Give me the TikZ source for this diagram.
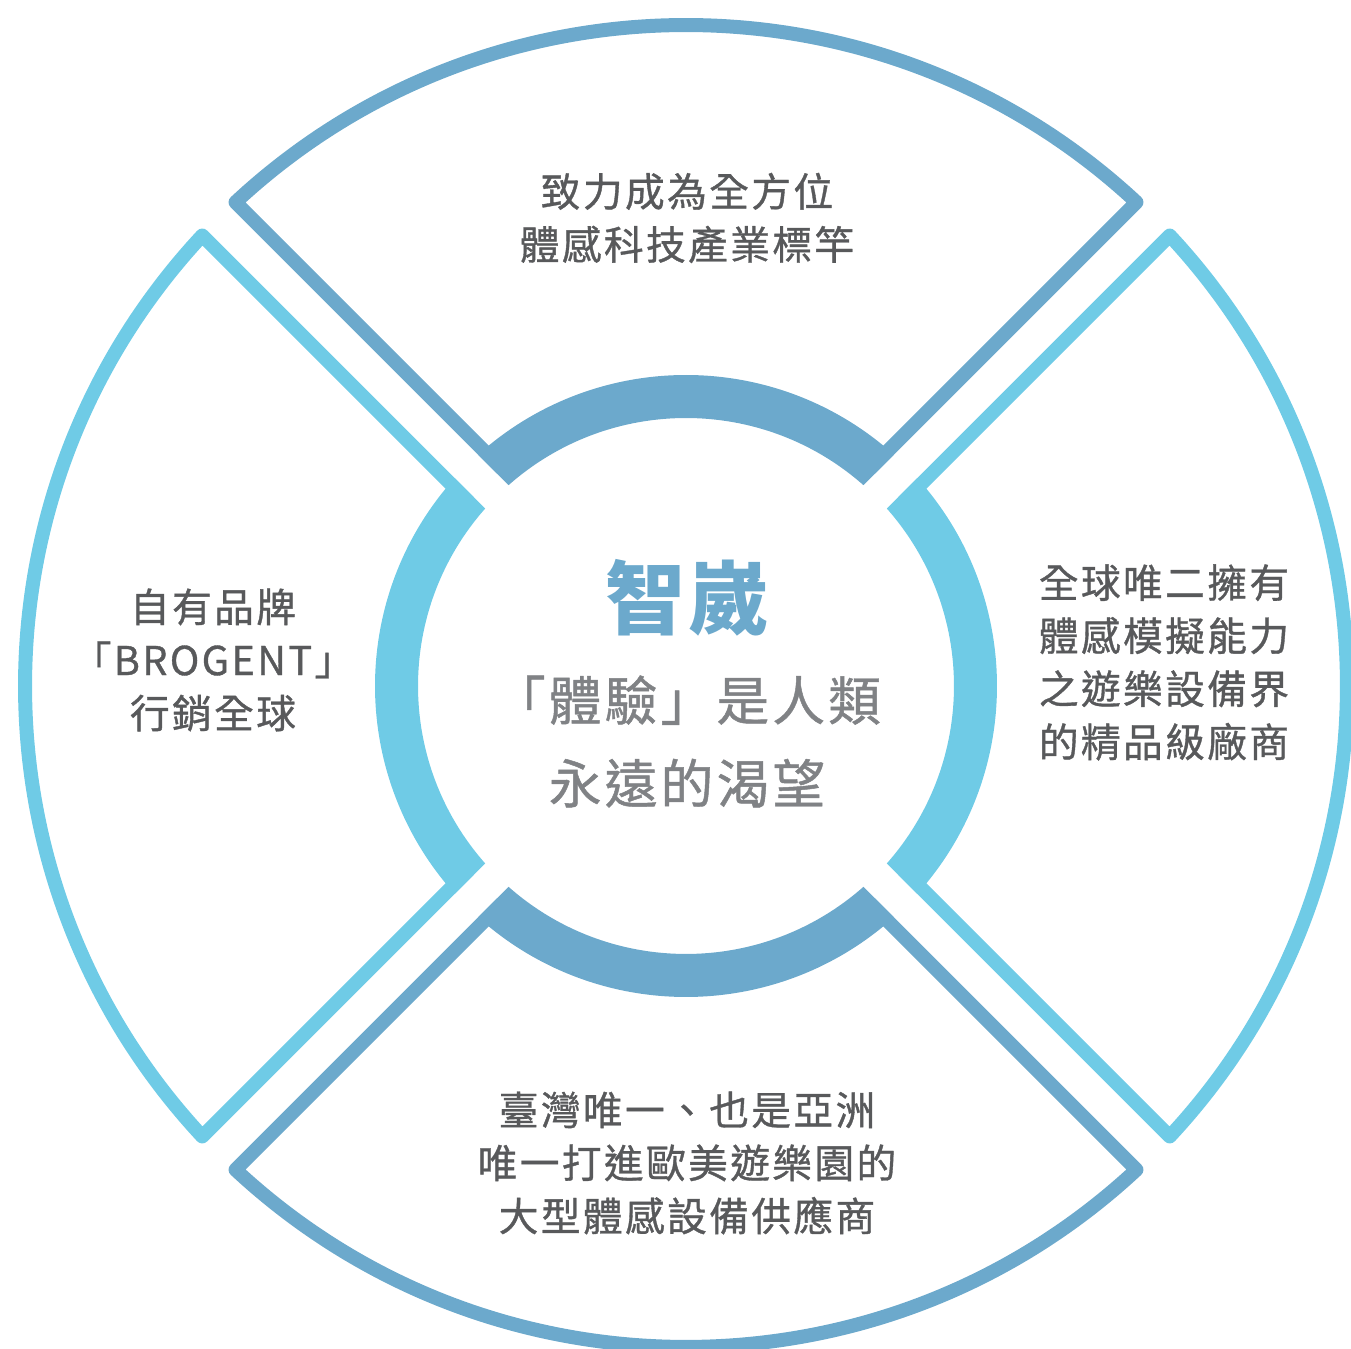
\documentclass[tikz,border=0pt]{standalone}
\usepackage{fontspec}
\setmainfont{Noto Sans CJK TC}
\newfontfamily\sidefont[LetterSpace=6, FakeBold=0.9]{Noto Sans CJK TC}
\newfontfamily\midfont[LetterSpace=6, FakeBold=0.9]{Noto Sans CJK TC}
\newfontfamily\titlefont[LetterSpace=3]{Noto Sans CJK TC}
\definecolor{darkblue}{HTML}{6CA9CC}
\definecolor{lightblue}{HTML}{6FCBE6}
\definecolor{textgray}{HTML}{58595B}
\definecolor{midgray}{HTML}{808285}

\begin{document}
\begin{tikzpicture}[
    segline/.style={line width=0.14cm, line join=round},
    sidetext/.style={text=textgray, align=center, font=\sidefont\fontsize{11.3}{15.1}\selectfont}]
        \useasboundingbox (-6.86,-6.63) rectangle (6.65,6.86);

        % four segments: outer frame and ring piece
        \foreach \a/\c in {90/darkblue,0/lightblue,-90/darkblue,180/lightblue}{
            \draw[segline,\c] (\a+45-4.73:2.85) -- (\a+45-2.04:6.61)
                arc[start angle=\a+45-2.04, end angle=\a-45+2.04, radius=6.61] -- (\a-45+4.73:2.85);
            \fill[\c] (\a+45-3.04:3.11) arc[start angle=\a+45-3.04, end angle=\a-45+3.04, radius=3.11]
                -- (\a-45+3.53:2.68) arc[start angle=\a-45+3.53, end angle=\a+45-3.53, radius=2.68] -- cycle;
        }

        \node[text=darkblue, font=\titlefont\bfseries\fontsize{22.8}{26}\selectfont] (title) at (0.01,0.88) {智崴};
        \node[text=midgray, align=center, font=\midfont\fontsize{15}{23.6}\selectfont] (motto) at (0.01,-0.555) {「體驗」是人類\\永遠的渴望};

        \node[sidetext] (top) at (0.01,4.68) {致力成為全方位\\體感科技產業標竿};
        \node[sidetext] (left) at (-4.73,0.26) {自有品牌\\「BROGENT」\\行銷全球};
        \node[sidetext] (right) at (4.78,0.235) {全球唯二擁有\\體感模擬能力\\之遊樂設備界\\的精品級廠商};
        \node[sidetext] (bottom) at (0.01,-4.77) {臺灣唯一、也是亞洲\\唯一打進歐美遊樂園的\\大型體感設備供應商};
\end{tikzpicture}
\end{document}
